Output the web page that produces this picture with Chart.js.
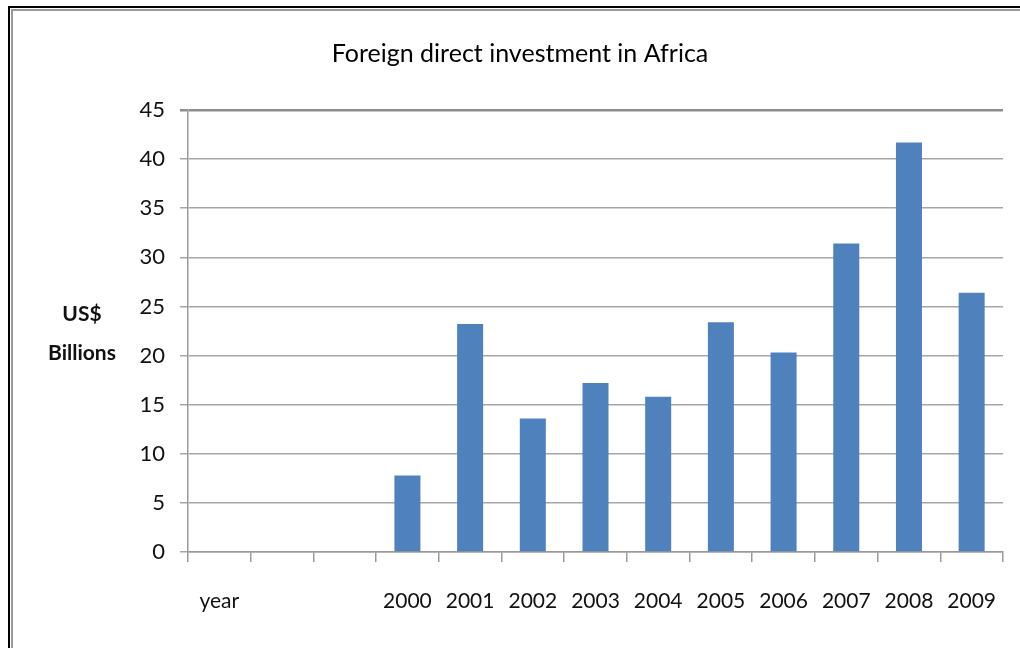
<!DOCTYPE html>
<html>
<head>
<meta charset="utf-8">
<title>Foreign direct investment in Africa</title>
<script src="https://cdn.jsdelivr.net/npm/chart.js@4.4.1/dist/chart.umd.min.js"></script>
<style>
  html, body { margin: 0; padding: 0; background: #fff; overflow: hidden; }
  #wrap { position: relative; width: 1020px; height: 648px; }
  .frame-outer { position: absolute; left: 8px; top: 6px; width: 1100px; height: 700px;
                 border-left: 2px solid #000; border-top: 2px solid #000; }
  .frame-inner { position: absolute; left: 1px; top: 1px; width: 1100px; height: 700px;
                 border-left: 2px solid #9a9a9a; border-top: 2px solid #9a9a9a; }
  canvas { position: absolute; left: 0; top: 0; }
</style>
</head>
<body>
<div id="wrap">
  <div class="frame-outer"><div class="frame-inner"></div></div>
  <canvas id="fdiChart"></canvas>
</div>
<script>
  // data (US$ billions)
  const categories = ['year', '', '', '2000', '2001', '2002', '2003', '2004', '2005', '2006', '2007', '2008', '2009'];
  const fdiValues  = [null, null, null, 7.8, 23.2, 13.6, 17.2, 15.8, 23.4, 20.3, 31.4, 41.7, 26.4];
  const yTicks     = [0, 5, 10, 15, 20, 25, 30, 35, 40, 45];
  const chartTitle = 'Foreign direct investment in Africa';
  const yTitle     = ['US$', 'Billions'];

  Chart.defaults.font.family = 'Lato, "Open Sans", sans-serif';
  Chart.defaults.color = '#111';

  // horizontal y-axis title, left of the tick labels
  const yTitlePlugin = {
    id: 'yTitle',
    afterDraw(chart) {
      const { ctx, chartArea } = chart;
      const cx = chartArea.left - 106;
      const cy = (chartArea.top + chartArea.bottom) / 2;
      ctx.save();
      ctx.font = 'bold 21px Lato, sans-serif';
      ctx.fillStyle = '#111';
      ctx.textAlign = 'center';
      ctx.textBaseline = 'middle';
      yTitle.forEach((t, i) => ctx.fillText(t, cx, cy - 17 + i * 39));
      ctx.restore();
    }
  };

  new Chart(document.getElementById('fdiChart'), {
    type: 'bar',
    data: {
      labels: categories,
      datasets: [{
        data: fdiValues,
        backgroundColor: '#4F81BD',
        borderWidth: 0,
        categoryPercentage: 1,
        barPercentage: 0.415
      }]
    },
    options: {
      responsive: true,
      maintainAspectRatio: false,
      animation: false,
      layout: { padding: { left: 37, right: 17, top: 20, bottom: 0 } },
      plugins: {
        legend: { display: false },
        tooltip: { enabled: false },
        title: {
          display: true,
          text: chartTitle,
          color: '#000',
          font: { size: 25, weight: 'normal' },
          padding: { top: 19, bottom: 41 }
        }
      },
      scales: {
        x: {
          afterFit: s => { s.height = 96; s.paddingLeft = 0; s.paddingRight = 0; },
          grid: {
            drawOnChartArea: false,
            offset: true,
            tickLength: 10,
            color: '#999',
            lineWidth: 1.5
          },
          border: { color: '#999', width: 1.5 },
          ticks: { font: { size: 21 }, color: '#111', padding: 27, maxRotation: 0, autoSkip: false }
        },
        y: {
          min: 0,
          max: 45,
          afterFit: s => { s.width = 151; s.paddingTop = 0; s.paddingBottom = 0; },
          afterBuildTicks: s => { s.ticks = yTicks.map(v => ({ value: v })); },
          grid: {
            tickLength: 8,
            color: c => c.tick && c.tick.value === 45 ? '#8c8c8c' : '#a6a6a6',
            lineWidth: c => c.tick && c.tick.value === 45 ? 2.5 : 1.5
          },
          border: { color: '#999', width: 1.5 },
          ticks: { font: { size: 22 }, color: '#111', padding: 15 }
        }
      }
    },
    plugins: [yTitlePlugin]
  });
</script>
</body>
</html>
